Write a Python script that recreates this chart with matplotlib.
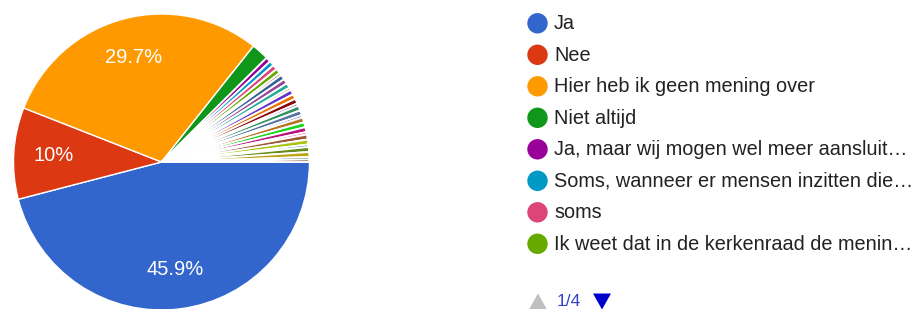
import matplotlib.pyplot as plt
from matplotlib.patches import Circle, Polygon

plt.rcParams['font.family'] = ['Liberation Sans', 'DejaVu Sans']

# response counts (370 in total), in the order of the chart
main_counts = [170, 37, 110, 7]
small_counts = [2, 2, 2, 2, 1, 2, 2, 2, 1, 2, 2, 2, 1, 2, 2, 1,
                2, 2, 2, 1, 2, 2, 1, 2, 2, 1, 1]
counts = main_counts + small_counts

legend_labels = ["Ja", "Nee", "Hier heb ik geen mening over", "Niet altijd",
                 "Ja, maar wij mogen wel meer aansluit…",
                 "Soms, wanneer er mensen inzitten die…",
                 "soms",
                 "Ik weet dat in de kerkenraad de menin…"]
page_text = "1/4"

google_colors = ['#3366cc', '#dc3912', '#ff9900', '#109618', '#990099', '#0099c6',
                 '#dd4477', '#66aa00', '#b82e2e', '#316395', '#994499', '#22aa99',
                 '#aaaa11', '#6633cc', '#e67300', '#8b0707', '#651067', '#329262',
                 '#5574a6', '#3b3eac', '#b77322', '#16d620', '#b91383', '#f4359e',
                 '#9c5935', '#a9c413', '#2a778d', '#668d1c', '#bea413', '#0c5922',
                 '#743411']

W, H = 914, 309
fig = plt.figure(figsize=(W / 100, H / 100), dpi=100)

# pie, centre (161.5, 162) px, radius 148 px
cx, cy, r = 161.5, 162, 148
ax = fig.add_axes([(cx - r) / W, (H - cy - r) / H, 2 * r / W, 2 * r / H])


def pct_label(p):
    if p < 5:
        return ''
    s = f"{p:.1f}"
    if s.endswith('.0'):
        s = s[:-2]
    return s + '%'


wedges, texts, autotexts = ax.pie(
    counts, colors=google_colors[:len(counts)], startangle=0, counterclock=False,
    autopct=pct_label, pctdistance=0.73, radius=1,
    wedgeprops=dict(edgecolor='white', linewidth=1.0),
    textprops=dict(color='white', fontsize=14.5))
# thin slices: white borders eat the inner part, as in the original
for w in wedges[len(main_counts):]:
    w.set_linewidth(1.35)
ax.set_xlim(-1, 1)
ax.set_ylim(-1, 1)
ax.set_aspect('equal')
ax.axis('off')

# legend page drawn in pixel coordinates
lg = fig.add_axes([0, 0, 1, 1])
lg.set_xlim(0, W)
lg.set_ylim(H, 0)
lg.axis('off')
row0, step = 23.3, 31.5
for i, lab in enumerate(legend_labels):
    y = row0 + i * step
    lg.add_patch(Circle((537.5, y), 10.2, color=google_colors[i], lw=0))
    lg.text(554, y + 0.5, lab, fontsize=14.3, color='#222222', va='center', ha='left')

py = 301.5
lg.add_patch(Polygon([(529, py + 8), (547, py + 8), (538, py - 8)], closed=True,
                     color='#c0c0c0', lw=0))
lg.text(557, py, page_text, fontsize=12.5, color='#3344cc', va='center', ha='left')
lg.add_patch(Polygon([(593, py - 8), (611, py - 8), (602, py + 8)], closed=True,
                     color='#0000cc', lw=0))

fig.savefig('out.png', dpi=100, facecolor='white')
